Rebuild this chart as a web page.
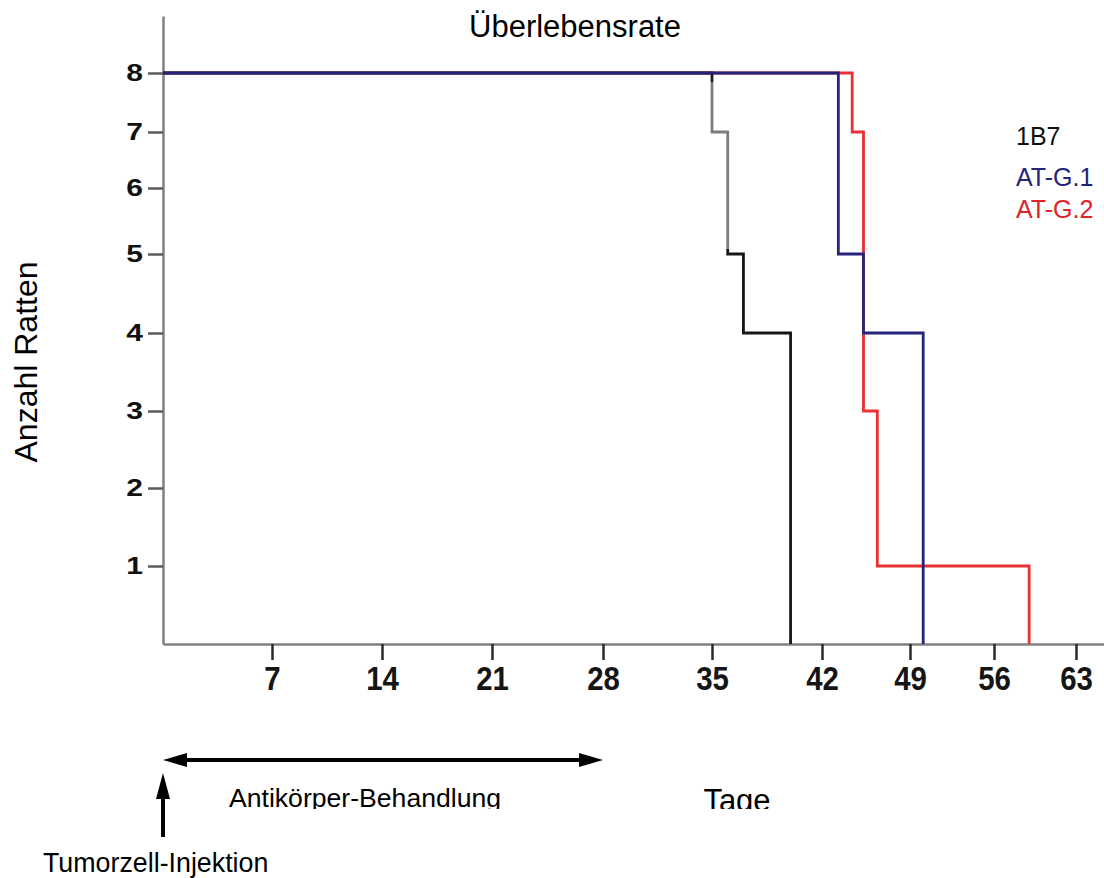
<!DOCTYPE html>
<html>
<head>
<meta charset="utf-8">
<script src="https://cdn.jsdelivr.net/npm/d3@7"></script>
<style>
  body { margin: 0; background: #fff; }
  svg { display: block; font-family: "Liberation Sans", Arial, sans-serif; }
</style>
</head>
<body>
<div id="chart"></div>
<script>
// Data
const seriesNames = ["1B7", "AT-G.1", "AT-G.2"];
const days1B7 = [0, 35, 36, 37, 40];
const rats1B7 = [8, 7, 5, 4, 0];
const daysATG1 = [0, 43.3, 45.3, 50.1];
const ratsATG1 = [8, 5, 4, 0];
const daysATG2 = [0, 44.4, 45.3, 46.4, 59];
const ratsATG2 = [8, 7, 3, 1, 0];
const xTicks = [7, 14, 21, 28, 35, 42, 49, 56, 63];
const yTicks = [1, 2, 3, 4, 5, 6, 7, 8];
const treatmentDays = [0, 28];
const injectionDay = 0;

const width = 1104;
const height = 878;
const font = '"Liberation Sans", Arial, sans-serif';

const svg = d3
  .select("#chart")
  .append("svg")
  .attr("width", width)
  .attr("height", height);

// Scales (the source image is unevenly stretched, so piecewise)
const xScale = d3
  .scaleLinear()
  .domain([0, 7, 14, 21, 28, 35, 42, 49, 56, 63, 66])
  .range([163, 272, 382, 492, 603, 712, 822, 910, 994, 1076, 1111]);

const yScale = d3
  .scaleLinear()
  .domain([0, 1, 2, 3, 4, 5, 6, 7, 8, 9])
  .range([644, 566, 488, 411, 333, 254, 188, 132, 73, 16]);

// Gradient for the 1B7 line (grey upper part, black lower part)
const defs = svg.append("defs");
const grad = defs
  .append("linearGradient")
  .attr("id", "g1b7")
  .attr("gradientUnits", "userSpaceOnUse")
  .attr("x1", 0)
  .attr("x2", 0)
  .attr("y1", yScale(8) - 2)
  .attr("y2", yScale(0));
[
  [0, "#1e1e28"],
  [0.02, "#1e1e28"],
  [0.02, "#7c7c7c"],
  [0.31, "#7c7c7c"],
  [0.31, "#161616"],
  [1, "#161616"]
].forEach(([o, c]) => {
  grad.append("stop").attr("offset", o).attr("stop-color", c);
});

defs
  .append("clipPath")
  .attr("id", "cut")
  .append("rect")
  .attr("x", 0)
  .attr("y", 0)
  .attr("width", width)
  .attr("height", 809);

// Axes
const xAxis = d3
  .axisBottom(xScale)
  .tickValues(xTicks)
  .tickSize(16)
  .tickSizeOuter(0);
const gx = svg
  .append("g")
  .attr("transform", `translate(0, ${yScale(0)})`)
  .call(xAxis)
  .attr("font-family", font);
gx.select(".domain").attr("stroke", "#808080").attr("stroke-width", 2.5);
gx.selectAll(".tick line").attr("stroke", "#2a2a2a").attr("stroke-width", 2.5);
gx.selectAll("text")
  .attr("fill", "#151515")
  .attr("y", 22 / 1.2)
  .attr("transform", "scale(1.05,1.2)")
  .style("font-size", "28px")
  .style("font-weight", "bold");

const yAxis = d3
  .axisLeft(yScale)
  .tickValues(yTicks)
  .tickSize(15)
  .tickSizeOuter(0);
const gy = svg
  .append("g")
  .attr("transform", `translate(${xScale(0)}, 0)`)
  .call(yAxis)
  .attr("font-family", font);
gy.select(".domain").attr("stroke", "#808080").attr("stroke-width", 2.5);
gy.selectAll(".tick line").attr("stroke", "#5a5a5a").attr("stroke-width", 2.5);
gy.selectAll("text")
  .attr("fill", "#111")
  .attr("x", -20 / 1.25)
  .attr("transform", "scale(1.25,1)")
  .style("font-size", "24px")
  .style("font-weight", "bold");

// Survival curves
const line = d3
  .line()
  .x((d) => xScale(d[0]))
  .y((d) => yScale(d[1]))
  .curve(d3.curveStepAfter);

const curves = [
  { days: daysATG2, rats: ratsATG2, color: "#ea3035" },
  { days: days1B7, rats: rats1B7, color: "url(#g1b7)" },
  { days: daysATG1, rats: ratsATG1, color: "#25237a" }
];

svg
  .append("g")
  .selectAll("path")
  .data(curves)
  .join("path")
  .attr("d", (c) => line(d3.zip(c.days, c.rats)))
  .attr("fill", "none")
  .attr("stroke", (c) => c.color)
  .attr("stroke-width", 2.8);

// Legend
const legendColors = ["#111111", "#25237a", "#e0242c"];
const legendY = [145, 186, 218];
svg
  .append("g")
  .selectAll("text")
  .data(seriesNames)
  .join("text")
  .attr("x", 1016)
  .attr("y", (d, i) => legendY[i])
  .attr("fill", (d, i) => legendColors[i])
  .style("font-size", "25px")
  .text((d) => d);

// Titles
svg
  .append("text")
  .attr("x", 575)
  .attr("y", 37)
  .attr("text-anchor", "middle")
  .style("font-size", "31px")
  .text("Überlebensrate");

svg
  .append("text")
  .attr("transform", "translate(37, 362) rotate(-90)")
  .attr("text-anchor", "middle")
  .style("font-size", "32px")
  .text("Anzahl Ratten");

svg
  .append("text")
  .attr("x", 737)
  .attr("y", 811)
  .attr("text-anchor", "middle")
  .attr("clip-path", "url(#cut)")
  .style("font-size", "31px")
  .text("Tage");

// Treatment annotation
const arrowY = 760;
const x0 = xScale(treatmentDays[0]);
const x1 = xScale(treatmentDays[1]);
const ann = svg.append("g").attr("fill", "#000").attr("stroke", "#000");
ann
  .append("line")
  .attr("x1", x0 + 18)
  .attr("x2", x1 - 18)
  .attr("y1", arrowY)
  .attr("y2", arrowY)
  .attr("stroke-width", 4);
ann
  .append("path")
  .attr("stroke", "none")
  .attr("d", `M${x0},${arrowY} L${x0 + 24},${arrowY - 7} L${x0 + 24},${arrowY + 7} Z`);
ann
  .append("path")
  .attr("stroke", "none")
  .attr("d", `M${x1},${arrowY} L${x1 - 24},${arrowY - 7} L${x1 - 24},${arrowY + 7} Z`);

svg
  .append("text")
  .attr("x", 229)
  .attr("y", 807)
  .attr("clip-path", "url(#cut)")
  .style("font-size", "26.6px")
  .text("Antikörper-Behandlung");

// Injection arrow
const xi = xScale(injectionDay);
ann
  .append("line")
  .attr("x1", xi)
  .attr("x2", xi)
  .attr("y1", 837)
  .attr("y2", 792)
  .attr("stroke-width", 4);
ann
  .append("path")
  .attr("stroke", "none")
  .attr("d", `M${xi},773 L${xi - 7},799 L${xi + 7},799 Z`);

svg
  .append("text")
  .attr("x", 43)
  .attr("y", 872)
  .style("font-size", "26.8px")
  .text("Tumorzell-Injektion");
</script>
</body>
</html>
